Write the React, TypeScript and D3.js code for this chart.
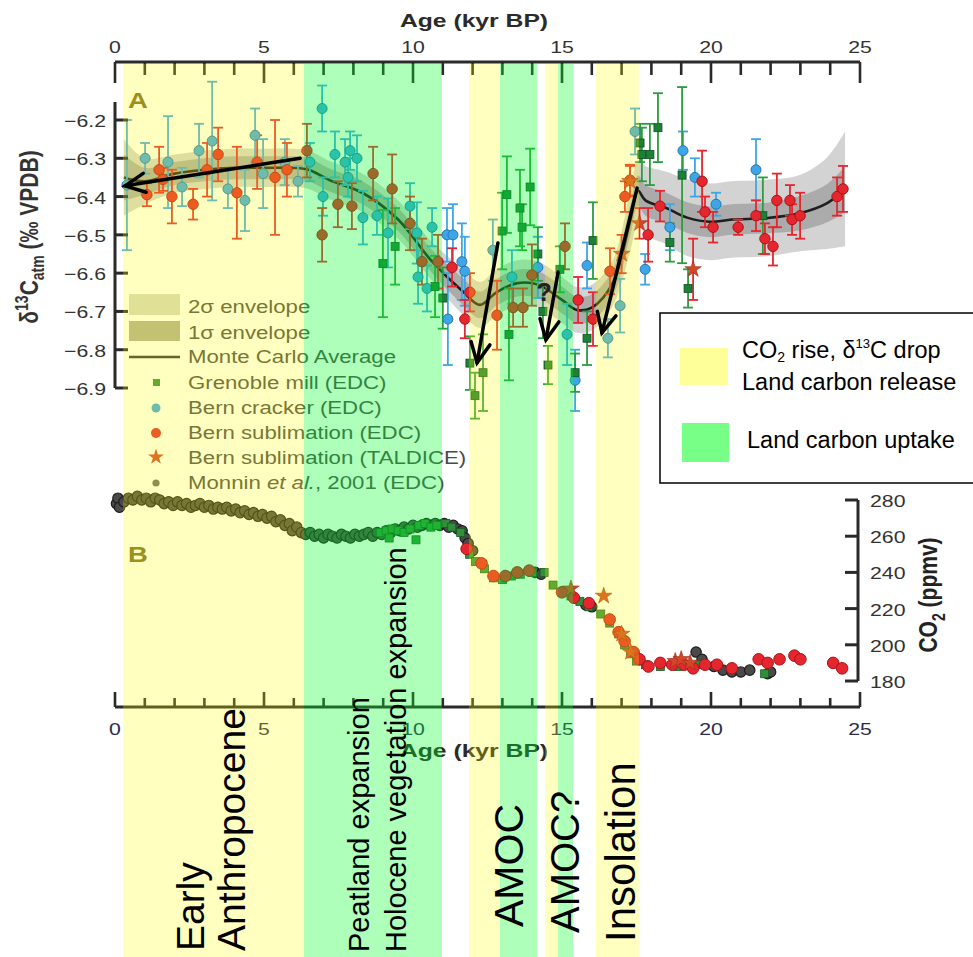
import * as d3 from 'd3'

type Pt = [number, number, number]

// ---------- data ----------
// Monte Carlo average and its envelopes (age kyr BP, d13C permil)
const mcAge = [0.3, 1, 2, 3, 4, 5, 6, 6.5, 7.2, 8.3, 9.5, 10.6, 11.7, 12.25, 12.8, 13.5, 14.2, 15.0, 15.5, 16.0, 16.7, 17.3, 17.55, 17.8, 18.5, 19.2, 20.0, 20.7, 21.9, 23.0, 23.9, 24.5]
const mcMean = [-6.35, -6.36, -6.34, -6.33, -6.325, -6.325, -6.325, -6.33, -6.357, -6.39, -6.46, -6.566, -6.65, -6.683, -6.65, -6.626, -6.63, -6.67, -6.696, -6.69, -6.626, -6.46, -6.385, -6.41, -6.43, -6.455, -6.466, -6.46, -6.456, -6.443, -6.417, -6.38]
const mcSd1 = [0.06, 0.035, 0.03, 0.03, 0.03, 0.03, 0.03, 0.03, 0.03, 0.03, 0.03, 0.03, 0.035, 0.035, 0.035, 0.035, 0.035, 0.035, 0.035, 0.035, 0.035, 0.04, 0.04, 0.04, 0.04, 0.04, 0.04, 0.04, 0.04, 0.045, 0.05, 0.06]
const mcSd2 = [0.1, 0.06, 0.05, 0.05, 0.05, 0.05, 0.05, 0.05, 0.05, 0.05, 0.05, 0.05, 0.06, 0.06, 0.06, 0.06, 0.06, 0.06, 0.06, 0.06, 0.06, 0.08, 0.08, 0.09, 0.095, 0.1, 0.1, 0.1, 0.1, 0.1, 0.12, 0.15]

// Bern cracker (EDC): [age, d13C, error]
const crackerA: Pt[] = [
  [0.4, -6.37, 0.17], [1.01, -6.30, 0.04], [1.78, -6.31, 0.12], [2.25, -6.375, 0.05], [2.82, -6.28, 0.07],
  [3.26, -6.255, 0.155], [3.79, -6.38, 0.05], [4.36, -6.41, 0.08], [4.7, -6.24, 0.07], [4.97, -6.34, 0.09],
  [5.7, -6.31, 0.06], [6.14, -6.36, 0.04], [6.54, -6.31, 0.05], [6.95, -6.17, 0.06], [6.98, -6.40, 0.05],
  [7.38, -6.29, 0.06], [7.72, -6.31, 0.06], [7.89, -6.28, 0.05], [8.12, -6.30, 0.06], [7.82, -6.35, 0.05],
  [8.32, -6.455, 0.07], [8.79, -6.45, 0.05], [9.16, -6.495, 0.09], [9.9, -6.425, 0.06], [10.13, -6.495, 0.08],
  [10.17, -6.61, 0.07], [10.64, -6.48, 0.05], [10.47, -6.64, 0.06], [11.14, -6.50, 0.07], [11.34, -6.50, 0.08],
  [11.64, -6.57, 0.1], [11.17, -6.72, 0.12], [11.74, -6.595, 0.09], [12.68, -6.54, 0.08], [13.32, -6.61, 0.07],
  [14.19, -6.585, 0.08], [15.17, -6.76, 0.08], [15.84, -6.58, 0.06], [15.44, -6.88, 0.08], [16.54, -6.77, 0.05],
  [16.95, -6.685, 0.07], [17.45, -6.23, 0.06], [19.06, -6.28, 0.05], [19.46, -6.35, 0.05], [20.17, -6.42, 0.03],
  [18.62, -6.48, 0.06], [17.79, -6.59, 0.04], [21.51, -6.33, 0.08],
]

// Bern sublimation (EDC)
const sublA: Pt[] = [
  [1.07, -6.395, 0.03], [1.48, -6.33, 0.06], [1.61, -6.355, 0.03], [1.91, -6.40, 0.07], [2.62, -6.42, 0.04],
  [3.09, -6.33, 0.07], [3.46, -6.29, 0.07], [4.09, -6.39, 0.12], [4.77, -6.31, 0.07], [5.37, -6.35, 0.15],
  [5.77, -6.33, 0.07], [6.44, -6.28, 0.07], [6.95, -6.50, 0.07], [7.48, -6.42, 0.06], [7.95, -6.425, 0.06],
  [8.66, -6.34, 0.07], [9.3, -6.38, 0.09], [9.9, -6.47, 0.07], [10.3, -6.57, 0.06], [10.84, -6.57, 0.07],
  [11.31, -6.585, 0.05], [11.74, -6.72, 0.05], [11.91, -6.65, 0.05], [12.82, -6.71, 0.09], [13.36, -6.69, 0.05],
  [13.69, -6.69, 0.05], [13.99, -6.605, 0.08], [15.1, -6.53, 0.06], [15.54, -6.67, 0.06], [16.04, -6.72, 0.07],
  [16.61, -6.595, 0.06], [17.11, -6.40, 0.04], [17.28, -6.357, 0.04], [17.89, -6.50, 0.07], [18.29, -6.425, 0.04],
  [19.7, -6.36, 0.08], [19.8, -6.44, 0.04], [20.07, -6.48, 0.04], [20.91, -6.48, 0.02], [21.51, -6.45, 0.04],
  [21.81, -6.51, 0.04], [22.08, -6.53, 0.05], [22.21, -6.41, 0.07], [22.65, -6.41, 0.04], [22.72, -6.46, 0.04],
  [22.99, -6.45, 0.06], [24.23, -6.40, 0.05], [24.43, -6.38, 0.06],
]

// Grenoble mill (EDC)
const millA: Pt[] = [
  [8.99, -6.575, 0.14], [9.4, -6.53, 0.1], [10.74, -6.635, 0.08], [11.0, -6.665, 0.08], [11.91, -6.835, 0.07],
  [12.35, -6.86, 0.1], [12.08, -6.92, 0.06], [12.99, -6.49, 0.1], [13.15, -6.395, 0.1], [13.59, -6.43, 0.1],
  [13.66, -6.48, 0.06], [13.93, -6.375, 0.1], [13.22, -6.76, 0.12], [14.19, -6.55, 0.07], [14.53, -6.84, 0.05],
  [14.36, -6.70, 0.07], [14.93, -6.59, 0.06], [16.04, -6.515, 0.1], [15.84, -6.77, 0.07], [15.44, -6.86, 0.05],
  [17.68, -6.29, 0.07], [17.62, -6.26, 0.05], [17.95, -6.29, 0.08], [18.22, -6.22, 0.09], [19.03, -6.344, 0.23],
  [18.62, -6.52, 0.05], [19.23, -6.64, 0.05], [21.74, -6.45, 0.1],
]

// Bern sublimation (TALDICE)
const taldiceA: Pt[] = [[17.0, -6.55, 0.05], [17.28, -6.36, 0.04], [17.6, -6.47, 0.04], [19.4, -6.59, 0.08]]

// CO2 (ppmv)
const monninCO2: [number, number][] = [
  [0.05, 278], [0.1, 281], [0.15, 276], [0.3, 279], [0.45, 281], [0.6, 280], [0.75, 282], [0.9, 280], [1.05, 281],
  [1.2, 279], [1.35, 281], [1.5, 280], [1.65, 278], [1.8, 279], [1.95, 277], [2.1, 279], [2.25, 277], [2.4, 278],
  [2.55, 276], [2.7, 277], [2.85, 278], [3.0, 276], [3.15, 277], [3.3, 275], [3.45, 276], [3.6, 275], [3.75, 276],
  [3.9, 274], [4.05, 275], [4.2, 273], [4.35, 274], [4.5, 272], [4.65, 273], [4.8, 271], [4.95, 272], [5.1, 270],
  [5.25, 271], [5.4, 268], [5.55, 269], [5.7, 266], [5.85, 267], [5.95, 263], [6.1, 265], [6.25, 262], [6.4, 261],
  [6.55, 262], [6.7, 260], [6.85, 261], [7.0, 259], [7.15, 261], [7.3, 260], [7.45, 259], [7.6, 261], [7.75, 260],
  [7.9, 259], [8.05, 261], [8.2, 260], [8.35, 261], [8.5, 262], [8.65, 260], [8.8, 262], [8.95, 261], [9.1, 263],
  [9.25, 262], [9.4, 264], [9.55, 263], [9.7, 265], [9.85, 264], [10.0, 266], [10.15, 265], [10.3, 266], [10.45, 267],
  [10.6, 266], [10.75, 267], [10.9, 266], [11.05, 267], [11.2, 265], [11.35, 266], [11.5, 264], [11.65, 263],
  [11.75, 259], [11.85, 256], [12.0, 252], [14.1, 240], [14.3, 239], [15.8, 222], [16.0, 221], [19.5, 196],
  [19.7, 192], [20.1, 188], [20.4, 186], [20.7, 185], [21.0, 185], [21.3, 186], [21.9, 184], [22.0, 185],
]
const millCO2: [number, number][] = [
  [8.9, 262], [9.1, 263], [9.2, 259], [9.3, 264], [9.5, 263], [9.7, 262], [9.9, 264], [10.1, 258], [10.2, 266],
  [10.4, 267], [10.6, 265], [10.8, 266], [11.1, 267], [11.3, 265], [11.6, 262], [11.9, 250], [12.1, 246], [12.4, 242],
  [12.7, 237], [13.0, 236], [13.3, 238], [13.6, 239], [14.0, 240], [14.4, 240], [14.7, 233], [15.0, 229], [15.3, 227],
  [15.6, 224], [15.9, 221], [16.3, 217], [16.6, 212], [16.9, 206], [17.1, 200], [17.3, 195], [17.5, 191], [17.8, 189],
  [18.3, 188], [18.9, 188], [19.6, 189], [21.8, 184],
]
const sublCO2: [number, number][] = [
  [11.8, 253], [12.3, 245], [12.7, 238], [13.1, 238], [13.5, 240], [13.9, 241], [15.0, 229], [15.4, 226], [15.9, 223],
  [16.6, 214], [16.9, 207], [17.1, 202], [17.4, 196], [17.6, 192], [17.9, 188], [18.3, 190], [18.7, 189], [19.1, 189],
  [19.4, 187], [19.8, 189], [20.2, 189], [20.7, 187], [21.6, 192], [21.9, 190], [22.3, 192], [22.8, 194], [23.0, 192],
  [24.1, 190], [24.4, 187],
]
const taldiceCO2: [number, number][] = [[15.3, 231], [16.4, 227], [17.0, 206], [17.3, 196], [18.8, 191], [19.0, 192], [19.3, 190]]

// shaded intervals (kyr BP)
const yellowBands = [[0.27, 6.34], [11.88, 12.92], [14.43, 14.87], [16.14, 17.58]]
const greenBands = [[6.34, 10.97], [12.92, 14.16], [14.87, 15.37]]

// arrows in data space [age, d13C]
const arrows = [
  { from: [6.21, -6.30], to: [0.34, -6.372] },
  { from: [12.85, -6.521], to: [12.15, -6.834] },
  { from: [14.87, -6.597], to: [14.46, -6.774] },
  { from: [17.52, -6.378], to: [16.34, -6.756] },
]

const d13Ticks = [-6.2, -6.3, -6.4, -6.5, -6.6, -6.7, -6.8, -6.9]
const co2Ticks = [180, 200, 220, 240, 260, 280]

// ---------- layout ----------
const W = 973
const H = 957
const FONT = '"Liberation Sans", Arial, Helvetica, sans-serif'
const SX = 1.25

const x = d3.scaleLinear().domain([0, 25]).range([115, 860])
const yA = d3.scaleLinear().domain([-6.9, -6.2]).range([388, 120])
const yB = d3.scaleLinear().domain([180, 280]).range([681, 500])

const COL = {
  blue: '#3ea6e6', blueDk: '#2477b0',
  red: '#e6262e', redDk: '#a81418',
  green: '#1d7f38', greenDk: '#0e5220', greenBar: '#2a9d3e',
  star: '#d4462a',
}

function SText({ x: tx, y: ty, sx = SX, rot = 0, children, ...rest }: any) {
  return (
    <text transform={`translate(${tx},${ty}) scale(${sx},1)${rot ? ` rotate(${rot})` : ''}`} fontFamily={FONT} {...rest}>
      {children}
    </text>
  )
}

function ErrBars({ data, color, yS }: { data: Pt[]; color: string; yS: any }) {
  return (
    <g stroke={color} strokeWidth={1.8} fill="none">
      {data.map(([a, v, e], i) => {
        const cx = x(a)
        const y1 = yS(v + e)
        const y2 = yS(v - e)
        return (
          <g key={i}>
            <line x1={cx} x2={cx} y1={y1} y2={y2} />
            <line x1={cx - 5} x2={cx + 5} y1={y1} y2={y1} />
            <line x1={cx - 5} x2={cx + 5} y1={y2} y2={y2} />
          </g>
        )
      })}
    </g>
  )
}

const starPath = d3.symbol().type(d3.symbolStar).size(85)() ?? ''
const starSmall = d3.symbol().type(d3.symbolStar).size(80)() ?? ''

export default function App() {
  const env = (k: number[]) =>
    d3.area<number>()
      .x((_, i) => x(mcAge[i]))
      .y0((d, i) => yA(d - k[i]))
      .y1((d, i) => yA(d + k[i]))
      .curve(d3.curveCatmullRom.alpha(0.5))(mcMean) ?? ''
  const mcLine = d3.line<number>()
    .x((_, i) => x(mcAge[i]))
    .y((d) => yA(d))
    .curve(d3.curveCatmullRom.alpha(0.5))(mcMean) ?? ''

  const ageTicks = x.ticks(25)

  const legendRows = [
    { kind: 'sw2', label: '2σ envelope', y: 313 },
    { kind: 'sw1', label: '1σ envelope', y: 339 },
    { kind: 'line', label: 'Monte Carlo Average', y: 363 },
    { kind: 'sq', label: 'Grenoble mill (EDC)', y: 389 },
    { kind: 'blue', label: 'Bern cracker (EDC)', y: 414 },
    { kind: 'red', label: 'Bern sublimation (EDC)', y: 439 },
    { kind: 'star', label: 'Bern sublimation (TALDICE)', y: 464 },
    { kind: 'monnin', label: 'Monnin', y: 489 },
  ]

  const vLabels = [
    { t: 'Early', x: 204, y: 951, s: 39 },
    { t: 'Anthropocene', x: 245, y: 951, s: 39 },
    { t: 'Peatland expansion', x: 369, y: 952, s: 29 },
    { t: 'Holocene vegetation expansion', x: 406, y: 952, s: 29 },
    { t: 'AMOC', x: 523, y: 927, s: 41 },
    { t: 'AMOC?', x: 579, y: 933, s: 40 },
    { t: 'Insolation', x: 635, y: 942, s: 42 },
  ]

  return (
    <svg width={W} height={H} style={{ position: 'absolute', left: 0, top: 0, background: '#fff' }}>
      <rect width={W} height={H} fill="#fff" />

      {/* ---- panel A: envelopes and average ---- */}
      <path d={env(mcSd2)} fill="#d3d3d3" />
      <path d={env(mcSd1)} fill="#ababab" />
      <path d={mcLine} fill="none" stroke="#1e1e1e" strokeWidth={2.6} />

      {/* ---- panel A: measurements ---- */}
      <ErrBars data={crackerA} color={COL.blue} yS={yA} />
      <ErrBars data={millA} color={COL.greenBar} yS={yA} />
      <ErrBars data={sublA} color={COL.red} yS={yA} />
      <ErrBars data={taldiceA} color={COL.red} yS={yA} />
      {crackerA.map(([a, v], i) => (
        <circle key={'c' + i} cx={x(a)} cy={yA(v)} r={5} fill={COL.blue} stroke={COL.blueDk} strokeWidth={1} />
      ))}
      {millA.map(([a, v], i) => (
        <rect key={'m' + i} x={x(a) - 4} y={yA(v) - 4} width={8} height={8} fill={COL.green} stroke={COL.greenDk} strokeWidth={0.8} />
      ))}
      {sublA.map(([a, v], i) => (
        <circle key={'s' + i} cx={x(a)} cy={yA(v)} r={5.2} fill={COL.red} stroke={COL.redDk} strokeWidth={1} />
      ))}
      {taldiceA.map(([a, v], i) => (
        <path key={'t' + i} d={starPath} transform={`translate(${x(a)},${yA(v)})`} fill={COL.star} stroke="#a02a18" strokeWidth={0.6} />
      ))}

      {/* ---- panel B: CO2 ---- */}
      {monninCO2.map(([a, v], i) => (
        <circle key={'mo' + i} cx={x(a)} cy={yB(v)} r={5.2} fill="#4a4a4a" stroke="#1c1c1c" strokeWidth={1.2} />
      ))}
      {millCO2.map(([a, v], i) => (
        <rect key={'mc' + i} x={x(a) - 4} y={yB(v) - 4} width={8} height={8} fill="#2f8f3a" stroke="#195a24" strokeWidth={0.8} />
      ))}
      {sublCO2.map(([a, v], i) => (
        <g key={'sc' + i}>
          <line x1={x(a)} x2={x(a)} y1={yB(v + 2)} y2={yB(v - 2)} stroke={COL.red} strokeWidth={1.5} />
          <circle cx={x(a)} cy={yB(v)} r={5.8} fill={COL.red} stroke={COL.redDk} strokeWidth={1} />
        </g>
      ))}
      {taldiceCO2.map(([a, v], i) => (
        <path key={'tc' + i} d={starPath} transform={`translate(${x(a)},${yB(v)})`} fill={COL.star} stroke="#a02a18" strokeWidth={0.6} />
      ))}

      {/* ---- top axis ---- */}
      <g stroke="#2a2a2a" strokeWidth={2.6}>
        <line x1={x(0)} x2={x(25)} y1={62} y2={62} strokeWidth={3} />
        {ageTicks.map((t) => (
          <line key={t} x1={x(t)} x2={x(t)} y1={62} y2={t % 5 === 0 ? 83 : 75} />
        ))}
      </g>
      {ageTicks.filter((t) => t % 5 === 0).map((t) => (
        <SText key={t} x={x(t)} y={53} fontSize={17} textAnchor="middle" fill="#333">{t}</SText>
      ))}
      <SText x={474} y={27} fontSize={19} fontWeight="bold" textAnchor="middle" fill="#2a2a2a" sx={1.3}>Age (kyr BP)</SText>

      {/* ---- left axis ---- */}
      <g stroke="#2a2a2a" strokeWidth={3}>
        <line x1={115} x2={115} y1={102} y2={yA(-6.9)} />
        {d13Ticks.map((t) => (
          <line key={t} x1={115} x2={128} y1={yA(t)} y2={yA(t)} />
        ))}
      </g>
      {d13Ticks.map((t) => (
        <SText key={t} x={106} y={yA(t) + 7} fontSize={17} textAnchor="end" fill="#333">
          {'\u2212' + Math.abs(t).toFixed(1)}
        </SText>
      ))}
      <SText x={38} y={237} rot={-90} fontSize={21} fontWeight="bold" textAnchor="middle" fill="#333">
        δ<tspan dy={-8} fontSize={14}>13</tspan>
        <tspan dy={8}>C</tspan>
        <tspan dy={5} fontSize={14}>atm</tspan>
        <tspan dy={-5}> (‰ VPDB)</tspan>
      </SText>
      <SText x={128} y={108} fontSize={22} fontWeight="bold" fill="#7a6a2a">A</SText>

      {/* ---- panel A legend ---- */}
      {legendRows.map((r) => (
        <g key={r.label}>
          {r.kind === 'sw2' && <rect x={129} y={r.y - 19} width={51} height={21} fill="#d6d6c8" />}
          {r.kind === 'sw1' && <rect x={129} y={r.y - 18} width={51} height={20} fill="#aeae98" />}
          {r.kind === 'line' && <line x1={129} x2={180} y1={r.y - 6} y2={r.y - 6} stroke="#333" strokeWidth={2.6} />}
          {r.kind === 'sq' && <rect x={153} y={r.y - 10} width={7} height={7} fill="#2f8f3a" />}
          {r.kind === 'blue' && <circle cx={156} cy={r.y - 6} r={4.5} fill={COL.blue} />}
          {r.kind === 'red' && <circle cx={156} cy={r.y - 6} r={5} fill={COL.red} />}
          {r.kind === 'star' && <path d={starSmall} transform={`translate(156,${r.y - 7})`} fill={COL.star} />}
          {r.kind === 'monnin' && <circle cx={156} cy={r.y - 6} r={3.6} fill="#6a6a6a" />}
          <SText x={188} y={r.y} fontSize={18.5} fill="#4a4a4a" sx={1.2}>
            {r.kind === 'monnin' ? (
              <>Monnin <tspan fontStyle="italic">et al.</tspan>, 2001 (EDC)</>
            ) : r.label}
          </SText>
        </g>
      ))}

      {/* ---- right CO2 axis ---- */}
      <g stroke="#2a2a2a" strokeWidth={3}>
        <line x1={858} x2={858} y1={yB(280)} y2={yB(180)} />
        {co2Ticks.map((t) => (
          <line key={t} x1={845} x2={858} y1={yB(t)} y2={yB(t)} />
        ))}
      </g>
      {co2Ticks.map((t) => (
        <SText key={t} x={870} y={yB(t) + 7} fontSize={17} fill="#333">{t}</SText>
      ))}
      <SText x={937} y={595} rot={-90} fontSize={21} fontWeight="bold" textAnchor="middle" fill="#222">
        CO<tspan dy={6} fontSize={14}>2</tspan>
        <tspan dy={-6}> (ppmv)</tspan>
      </SText>
      <SText x={128} y={562} fontSize={22} fontWeight="bold" fill="#7a6a2a">B</SText>

      {/* ---- bottom axis ---- */}
      <g stroke="#2a2a2a" strokeWidth={2.6}>
        <line x1={x(0)} x2={x(25)} y1={707} y2={707} strokeWidth={3} />
        {ageTicks.map((t) => (
          <line key={t} x1={x(t)} x2={x(t)} y1={707} y2={t % 5 === 0 ? 692 : 698} />
        ))}
      </g>
      {ageTicks.filter((t) => t % 5 === 0).map((t) => (
        <SText key={t} x={x(t)} y={735} fontSize={17} textAnchor="middle" fill="#2d2d4a">{t}</SText>
      ))}
      <SText x={474} y={757} fontSize={19} fontWeight="bold" textAnchor="middle" fill="#2a2a2a" sx={1.3}>Age (kyr BP)</SText>

      {/* ---- shaded intervals ---- */}
      {yellowBands.map(([a, b], i) => (
        <rect key={'y' + i} x={x(a)} y={64} width={x(b) - x(a)} height={H - 64} fill="#ffff00" fillOpacity={0.25} />
      ))}
      {greenBands.map(([a, b], i) => (
        <rect key={'g' + i} x={x(a)} y={64} width={x(b) - x(a)} height={H - 64} fill="#00ff28" fillOpacity={0.32} />
      ))}

      {/* ---- annotations ---- */}
      <g stroke="#000" strokeWidth={3.5} fill="none" strokeLinecap="round">
        {arrows.map((ar, i) => {
          const x1 = x(ar.from[0]), y1 = yA(ar.from[1])
          const x2 = x(ar.to[0]), y2 = yA(ar.to[1])
          const ang = Math.atan2(y2 - y1, x2 - x1)
          const L = 22, sp = 0.45
          const h1 = [x2 - L * Math.cos(ang - sp), y2 - L * Math.sin(ang - sp)]
          const h2 = [x2 - L * Math.cos(ang + sp), y2 - L * Math.sin(ang + sp)]
          return (
            <g key={i}>
              <line x1={x1} y1={y1} x2={x2} y2={y2} />
              <polyline points={`${h1[0]},${h1[1]} ${x2},${y2} ${h2[0]},${h2[1]}`} strokeLinejoin="miter" />
            </g>
          )
        })}
      </g>
      <text x={x(14.4)} y={yA(-6.65) + 9} fontSize={25} fontWeight="bold" fill="#222" textAnchor="middle" fontFamily={FONT}>?</text>

      {vLabels.map((l) => (
        <text key={l.t} transform={`translate(${l.x},${l.y}) rotate(-90)`} fontSize={l.s} fontFamily={FONT} fill="#000">{l.t}</text>
      ))}

      {/* ---- colour key ---- */}
      <rect x={660} y={313} width={330} height={170} fill="#fff" stroke="#000" strokeWidth={1.5} />
      <rect x={680} y={348} width={48} height={37} fill="#ffff99" />
      <rect x={682} y={423} width={47} height={39} fill="#77ff88" />
      <text x={742} y={358} fontSize={23.5} fontFamily={FONT} fill="#000">
        CO<tspan dy={4} fontSize={14}>2</tspan>
        <tspan dy={-4}> rise, δ</tspan>
        <tspan dy={-10} fontSize={13}>13</tspan>
        <tspan dy={10}>C drop</tspan>
      </text>
      <text x={742} y={390} fontSize={23.5} fontFamily={FONT} fill="#000">Land carbon release</text>
      <text x={747} y={448} fontSize={23.5} fontFamily={FONT} fill="#000">Land carbon uptake</text>
    </svg>
  )
}
